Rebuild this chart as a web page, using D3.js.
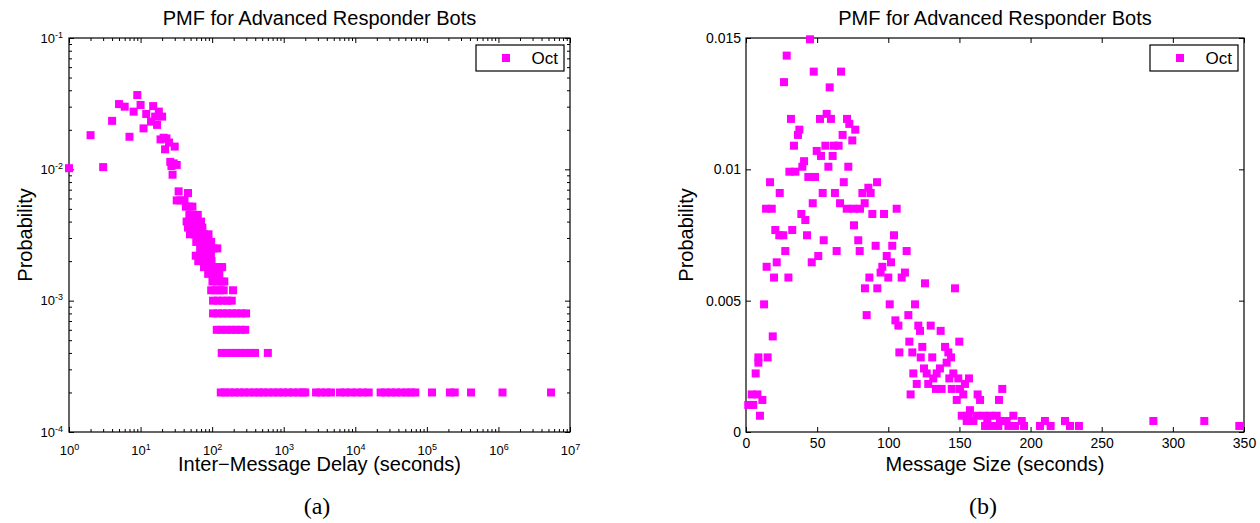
<!DOCTYPE html>
<html>
<head>
<meta charset="utf-8">
<title>PMF for Advanced Responder Bots</title>
<style>
body { margin: 0; background: #fff; }
text { font-family: "Liberation Sans", Arial, sans-serif; fill: #000; }
text.caption { font-family: "Liberation Serif", "Times New Roman", serif; }
.axis path.domain { display: none; }
.axis line { stroke: #000; stroke-width: 1px; }
rect.frame { fill: none; stroke: #000; stroke-width: 1.2px; }
rect.pt { fill: #ff00ff; }
</style>
</head>
<body>
<script src="https://cdn.jsdelivr.net/npm/d3@7"></script>
<script>

var title = "PMF for Advanced Responder Bots";
var seriesName = "Oct";

// (a) inter-message delay, log-log
// first part: single points [delay, probability]
var delayHead = [
  [1,0.0102],[2,0.0182],[3,0.0104],[4,0.0234],[5,0.0314],[6,0.030],[7,0.0177],
  [8,0.0275],[9,0.0368],[10,0.0309],[11,0.0205],[12,0.0264],[14,0.0231],[15,0.0303],
  [16,0.0252],[17,0.0218],[18,0.0275],[20,0.0252],[19,0.0169],[21,0.0174],[23,0.0172],
  [25,0.0160],[22,0.0142],[30,0.0149],[26,0.0114],[29,0.0111],[32,0.0108],[27,0.0106],
  [28,0.0091],[34,0.0068],[46,0.0066]
];

// rest of it: probability levels and the delays sitting on each level
var tailLevels = [0.0058,0.0052,0.0045,0.0040,0.0036,0.0032,0.0028,0.0025,0.0022,0.0020,
  0.0018,0.0016,0.0014,0.0012,0.0010,0.0008,0.0006,0.0004,0.0002];
var tailDelays = [
  [32,36,41],
  [43,48,53],
  [48,55,63],
  [44,52,61,70],
  [46,53,62,73],
  [49,57,66,77,89],
  [60,70,82,97],
  [68,78,90,104,118],
  [59,68,78,88,96],
  [64,74,85,98],
  [77,88,101,116,132,138],
  [88,100,113,126],
  [101,118,134,148],
  [97,112,128,145,196],
  [103,120,140,163,188],
  [103,120,140,163,190,220,256,298],
  [116,135,158,184,214,250,290],
  [136,158,185,215,250,292,340,397,600],
  [132,150,175,205,240,280,330,390,450,520,610,720,840,980,1150,1350,1600,1850,2000,
   2830,3300,3900,4580,6120,7300,8700,10500,12700,15400,22600,26500,31500,37000,44000,
   52000,60000,69000,118000,210000,245000,414000,1140000,5430000]
];

// (b) message size, linear  [size, probability]
var sizePoints = [
  [45.0,0.01495],[28.6,0.01433],[26.7,0.01332],[47.6,0.01372],[66.8,0.01372],[58.8,0.01312],
  [31.6,0.01192],[52.0,0.01192],[56.7,0.01211],[59.7,0.01192],[71.0,0.01192],[72.6,0.01173],
  [76.8,0.01151],[37.5,0.01151],[36.5,0.01131],[67.9,0.01131],[74.7,0.0111],[33.7,0.0109],
  [55.8,0.0109],[61.8,0.0109],[65.1,0.0109],[49.7,0.0107],[52.7,0.01051],[60.9,0.01051],
  [40.8,0.01031],[39.6,0.0101],[30.5,0.00991],[34.7,0.00991],[57.9,0.0101],[71.9,0.0101],
  [43.8,0.00971],[48.5,0.00971],[16.9,0.00951],[68.7,0.00951],[92.1,0.00951],[23.7,0.0091],
  [53.9,0.0091],[62.5,0.0091],[81.8,0.0091],[86.0,0.0093],[87.6,0.0091],[46.9,0.00871],
  [66.1,0.00871],[83.4,0.00871],[14.1,0.0085],[18.1,0.0085],[70.8,0.0085],[75.4,0.0085],
  [80.1,0.0085],[105.9,0.0085],[38.9,0.0083],[88.8,0.0083],[97.0,0.0083],[41.7,0.00807],
  [75.9,0.00787],[20.6,0.00769],[23.4,0.00749],[26.2,0.00749],[32.5,0.00769],[42.9,0.00749],
  [54.6,0.0073],[78.9,0.0073],[104.0,0.00749],[27.6,0.00689],[63.7,0.00689],[79.9,0.00689],
  [91.1,0.00709],[102.8,0.00709],[112.9,0.00689],[50.8,0.0067],[98.9,0.0067],
  [14.5,0.00629],[21.6,0.00646],[19.7,0.00588],[29.8,0.00588],[46.2,0.00646],[101.9,0.00646],
  [95.8,0.00629],[94.6,0.00607],[86.7,0.00588],[100.0,0.00588],[83.6,0.00547],[92.3,0.00547],
  [12.7,0.00486],[101.0,0.00486],[84.8,0.00445],[105.0,0.00425],[107.1,0.00405],[18.8,0.00364],
  [107.8,0.00303],[8.7,0.00284],[15.2,0.00284],[6.8,0.00223],[8.7,0.00264],[4.0,0.00143],
  [8.0,0.00143],[1.6,0.00103],[5.1,0.00103],[11.5,0.00122],[9.8,0.00062],
  [111.7,0.00607],[109.4,0.00588],[125.8,0.00566],[146.9,0.00547],[118.8,0.00486],[114.1,0.00445],
  [121.1,0.00405],[122.3,0.00385],[129.8,0.00405],[136.8,0.00385],[114.8,0.00344],[149.9,0.00344],
  [116.9,0.00303],[123.9,0.00324],[122.8,0.00284],[130.9,0.00284],[139.9,0.00324],[142.2,0.00303],
  [144.1,0.00284],[141.0,0.00264],[136.3,0.00242],[125.1,0.00242],[117.6,0.00223],[127.0,0.00223],
  [131.6,0.00204],[134.0,0.00223],[120.0,0.00183],[128.1,0.00183],[133.5,0.00164],[137.5,0.00164],
  [145.7,0.00223],[142.9,0.00204],[149.2,0.00204],[156.7,0.00204],[153.9,0.00183],[144.6,0.00164],
  [150.4,0.00164],[152.7,0.00143],[115.7,0.00143],[148.1,0.00122],[162.8,0.00143],[164.5,0.00122],
  [177.8,0.00122],[180.1,0.00164],[151.6,0.00062],[157.4,0.00083],[155.1,0.00042],[156.5,0.00062],
  [162.1,0.00062],[166.8,0.00062],[171.5,0.00062],[176.2,0.00062],[168.0,0.00023],[172.7,0.00023],
  [159.8,0.00042],[169.6,0.00042],[177.3,0.00023],
  [178.5,0.00042],[183.2,0.00042],[187.9,0.00062],[184.4,0.00023],[189.1,0.00023],[193.8,0.00042],
  [195.4,0.00023],[206.6,0.00023],[210.1,0.00042],[214.1,0.00023],[224.2,0.00042],[227.7,0.00023],
  [234.0,0.00023],[286.3,0.00042],[322.1,0.00042],[346.7,0.00023]
];

var sizeTicks = [0,50,100,150,200,250,300,350];
var probTicks = [0,0.005,0.01,0.015];
var delayTicks = [1,1e1,1e2,1e3,1e4,1e5,1e6,1e7];
var delayProbTicks = [1e-4,1e-3,1e-2,1e-1];

var width = 1260, height = 523;
var plotTop = 38, plotBottom = 432;
var msize = 8;

var svg = d3.select("body").append("svg")
    .attr("width", width)
    .attr("height", height);

// minor ticks for log axes
function minors(lo, hi) {
  var out = [];
  for (var e = lo; e < hi; e++) {
    for (var m = 2; m <= 9; m++) out.push(m * Math.pow(10, e));
  }
  return out;
}

function powLabels(sel) {
  sel.each(function(d) {
    var t = d3.select(this).text(null).style("font-size", "13px");
    t.append("tspan").text("10");
    t.append("tspan")
      .attr("dy", "-0.55em")
      .style("font-size", "9px")
      .text(String(Math.round(Math.log10(d))));
  });
}

function drawFrame(g, x, y, xt, yt, xMinor, yMinor, isLog) {
  var x0 = x.range()[0], x1 = x.range()[1];

  // labelled axes
  var ax = g.append("g").attr("class", "axis")
      .attr("transform", "translate(0," + plotBottom + ")")
      .call(d3.axisBottom(x).tickValues(xt).tickSize(-5).tickSizeOuter(0));
  var ay = g.append("g").attr("class", "axis")
      .attr("transform", "translate(" + x0 + ",0)")
      .call(d3.axisLeft(y).tickValues(yt).tickSize(-5).tickSizeOuter(0).tickPadding(isLog ? 6 : 5)
        .tickFormat(function(d) { return d === 0 ? "0" : String(d); }));

  // mirror ticks on top / right
  g.append("g").attr("class", "axis")
      .attr("transform", "translate(0," + plotTop + ")")
      .call(d3.axisTop(x).tickValues(xt).tickSize(-5).tickSizeOuter(0).tickFormat(""));
  g.append("g").attr("class", "axis")
      .attr("transform", "translate(" + x1 + ",0)")
      .call(d3.axisRight(y).tickValues(yt).tickSize(-5).tickSizeOuter(0).tickFormat(""));

  if (isLog) {
    [["translate(0," + plotBottom + ")", d3.axisBottom(x).tickValues(xMinor)],
     ["translate(0," + plotTop + ")", d3.axisTop(x).tickValues(xMinor)],
     ["translate(" + x0 + ",0)", d3.axisLeft(y).tickValues(yMinor)],
     ["translate(" + x1 + ",0)", d3.axisRight(y).tickValues(yMinor)]]
      .forEach(function(a) {
        g.append("g").attr("class", "axis").attr("transform", a[0])
          .call(a[1].tickSize(-3).tickSizeOuter(0).tickFormat(""));
      });
    ax.selectAll("text").attr("y", 23).attr("dy", null).call(powLabels);
    ay.selectAll("text").call(powLabels);
  } else {
    ax.selectAll("text").attr("y", 16).attr("dy", null).style("font-size", "14px");
    ay.selectAll("text").style("font-size", "14px");
  }

  g.append("rect").attr("class", "frame")
      .attr("x", x0).attr("y", plotTop)
      .attr("width", x1 - x0).attr("height", plotBottom - plotTop);
}

function drawPanel(x, y, xt, yt, xMinor, yMinor, isLog, pts, xlabel, ylabelX, caption, capX) {
  var g = svg.append("g");
  var x0 = x.range()[0], x1 = x.range()[1];
  var cx = (x0 + x1) / 2;

  drawFrame(g, x, y, xt, yt, xMinor, yMinor, isLog);

  g.append("g").selectAll("rect")
      .data(pts)
      .enter()
      .append("rect")
      .attr("class", "pt")
      .attr("x", function(d) { return x(d[0]) - msize / 2; })
      .attr("y", function(d) { return y(d[1]) - msize / 2; })
      .attr("width", msize)
      .attr("height", msize);

  g.append("text").attr("x", cx).attr("y", 25)
      .attr("text-anchor", "middle").style("font-size", "20px").text(title);
  g.append("text").attr("x", cx).attr("y", 471)
      .attr("text-anchor", "middle").style("font-size", "20px").text(xlabel);
  g.append("text")
      .attr("transform", "translate(" + ylabelX + "," + ((plotTop + plotBottom) / 2) + ") rotate(-90)")
      .attr("text-anchor", "middle").style("font-size", "20px").text("Probability");
  g.append("text").attr("class", "caption").attr("x", capX).attr("y", 514)
      .attr("text-anchor", "middle").style("font-size", "24px").text(caption);

  // legend
  var lg = g.append("g").attr("transform", "translate(" + (x1 - 94) + "," + (plotTop + 7) + ")");
  lg.append("rect").attr("width", 88).attr("height", 26)
      .attr("fill", "#fff").attr("stroke", "#000").attr("stroke-width", 1.2);
  lg.append("rect").attr("class", "pt")
      .attr("x", 30 - msize / 2).attr("y", 13 - msize / 2)
      .attr("width", msize).attr("height", msize);
  lg.append("text").attr("x", 82).attr("y", 19)
      .attr("text-anchor", "end").style("font-size", "17px").text(seriesName);
}

// panel (a)
var delayPts = delayHead.slice();
tailLevels.forEach(function(p, i) {
  tailDelays[i].forEach(function(d) { delayPts.push([d, p]); });
});

var xA = d3.scaleLog().domain([1, 1e7]).range([69, 570]);
var yA = d3.scaleLog().domain([1e-4, 1e-1]).range([plotBottom, plotTop]);
drawPanel(xA, yA, delayTicks, delayProbTicks, minors(0, 7), minors(-4, -1), true,
  delayPts, "Inter\u2212Message Delay (seconds)", 32, "(a)", 317);

// panel (b)
var xB = d3.scaleLinear().domain([0, 350]).range([746, 1244]);
var yB = d3.scaleLinear().domain([0, 0.015]).range([plotBottom, plotTop]);
drawPanel(xB, yB, sizeTicks, probTicks, null, null, false,
  sizePoints, "Message Size (seconds)", 693, "(b)", 983);

</script>
</body>
</html>
